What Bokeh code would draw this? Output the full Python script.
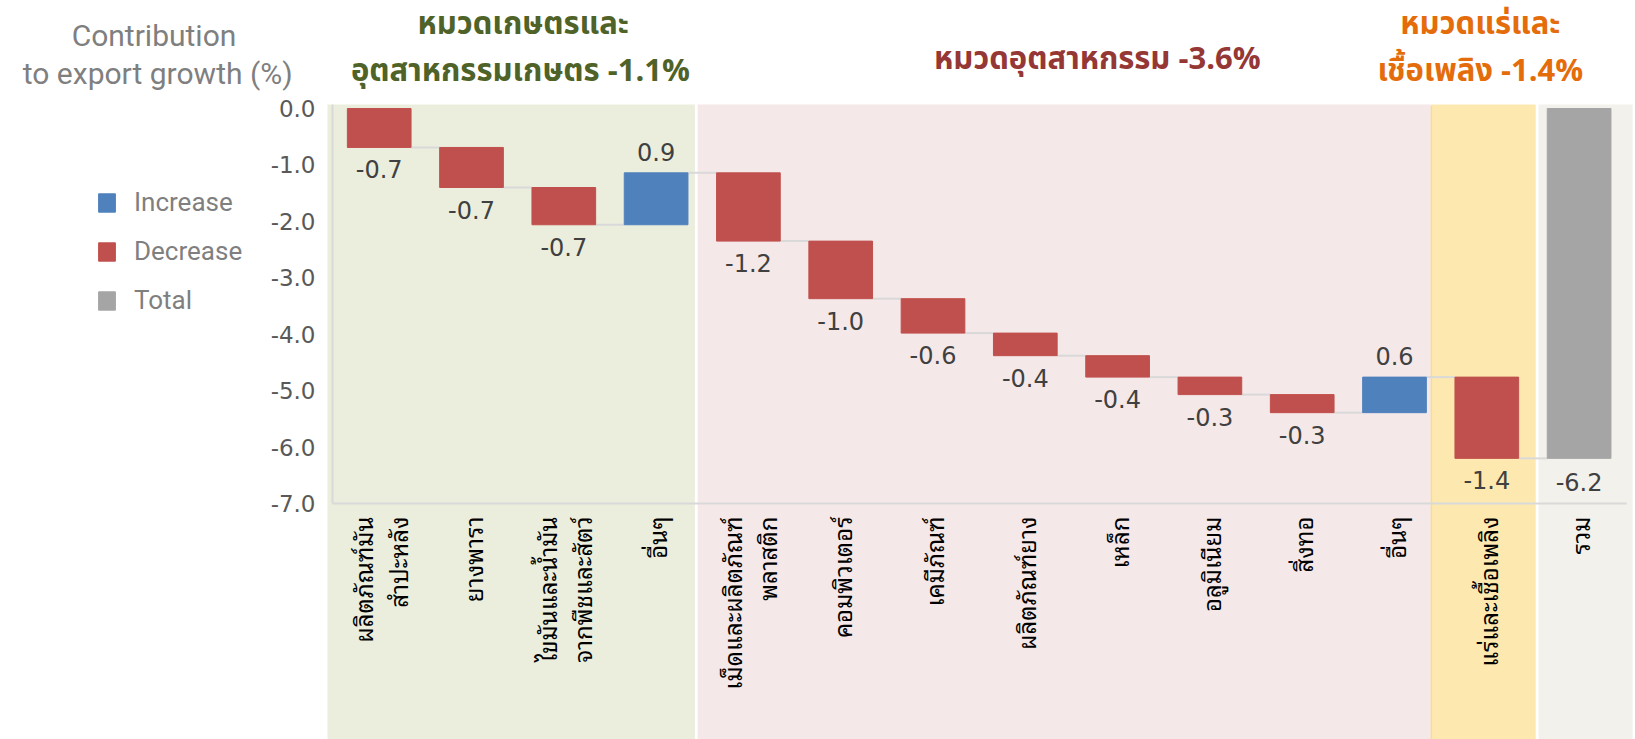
import math
from bokeh.plotting import figure
from bokeh.models import (Range1d, FixedTicker, PrintfTickFormatter, Legend, LegendItem,
                          Label, ColumnDataSource)
from bokeh.core.properties import value
from bokeh.embed import file_html
from bokeh.resources import INLINE

# ---------------- data ----------------
categories = ["ผลิตภัณฑ์มัน\nสำปะหลัง", "ยางพารา", "ไขมันและน้ำมัน\nจากพืชและสัตว์", "อื่นๆ",
              "เม็ดและผลิตภัณฑ์\nพลาสติก", "คอมพิวเตอร์", "เคมีภัณฑ์", "ผลิตภัณฑ์ยาง",
              "เหล็ก", "อลูมิเนียม", "สิ่งทอ", "อื่นๆ", "แร่และเชื้อเพลิง"]
changes = [-0.69, -0.71, -0.66, 0.92, -1.21, -1.02, -0.61, -0.40, -0.38, -0.31, -0.32, 0.63, -1.44]
total_name = "รวม"
y_ticks = [0.0, -1.0, -2.0, -3.0, -4.0, -5.0, -6.0, -7.0]
group_names = ["หมวดเกษตรและ\nอุตสาหกรรมเกษตร", "หมวดอุตสาหกรรม", "หมวดแร่และ\nเชื้อเพลิง", ""]
group_shares = [-1.1, -3.6, -1.4, None]
group_first = [0, 4, 12, 13]
group_last = [3, 11, 12, 13]
legend_labels = ["Increase", "Decrease", "Total"]

# ---------------- styles ----------------
C_INC, C_DEC, C_TOT = "#4F81BD", "#C0504D", "#A5A5A5"
BAND_COLORS = ["#EBEEDD", "#F5E8E8", "#FDE9AF", "#F3F1EB"]
HEAD_COLORS = ["#4F6228", "#953735", "#E46C0A", None]
THAI = value("'Noto Sans Thai Looped', 'Noto Sans Thai', Tahoma, 'Noto Sans', sans-serif")
THAI_BOLD = "'Noto Sans Thai', 'Noto Sans Thai Looped', 'Noto Sans', sans-serif"
NUM_FONT = "DejaVu Sans"

# ---------------- derived waterfall geometry ----------------
starts, ends = [], []
lvl = 0.0
for c in changes:
    starts.append(lvl)
    lvl += c
    ends.append(lvl)
total = lvl
n = len(changes)
BW = 0.69

def bars(kind):
    d = dict(x=[], top=[], bottom=[])
    for i, c in enumerate(changes):
        if (c > 0) == (kind == "inc"):
            d["x"].append(i)
            d["top"].append(max(starts[i], ends[i]))
            d["bottom"].append(min(starts[i], ends[i]))
    return d

inc_src = ColumnDataSource(bars("inc"))
dec_src = ColumnDataSource(bars("dec"))
tot_src = ColumnDataSource(dict(x=[n], top=[0.0], bottom=[total]))

lab = dict(x=[], y=[], t=[], off=[])
for i, c in enumerate(changes):
    lab["x"].append(i)
    lab["t"].append(f"{c:.1f}")
    if c < 0:
        lab["y"].append(min(starts[i], ends[i])); lab["off"].append(22)
    else:
        lab["y"].append(max(starts[i], ends[i])); lab["off"].append(-21)
lab["x"].append(n); lab["y"].append(total); lab["t"].append(f"{total:.1f}"); lab["off"].append(24)
lab_src = ColumnDataSource(lab)

conn = dict(x0=[], x1=[], y=[])
for i in range(n):
    conn["x0"].append(i + BW / 2)
    conn["x1"].append(i + 1 - BW / 2)
    conn["y"].append(ends[i])

# ---------------- figure ----------------
p = figure(width=1635, height=739, title=None,
           x_range=Range1d(-4.103, 13.611), y_range=Range1d(-11.182, 1.914),
           x_axis_location=None, output_backend="svg", toolbar_location=None,
           min_border=0, min_border_left=0, min_border_right=0, min_border_top=0,
           min_border_bottom=0)
p.outline_line_color = None
p.xgrid.visible = False
p.ygrid.visible = False
p.background_fill_color = "white"
p.border_fill_color = "white"

# background bands (edges in category units)
band_left = [group_first[0] - 0.56, group_first[1] - 0.55, group_first[2] - 0.60, group_first[3] - 0.44]
band_right = [group_last[0] + 0.42, group_last[1] + 0.40, group_last[2] + 0.53, group_last[3] + 0.58]
for g in range(4):
    p.quad(left=band_left[g], right=band_right[g], top=0.07, bottom=-11.3,
           fill_color=BAND_COLORS[g], line_color=None)
# yellow band border
p.segment(x0=[band_left[2]], x1=[band_left[2]], y0=[0.05], y1=[-11.3],
          line_color="#F7DC95", line_width=1.5)

# axis lines
p.segment(x0=[-0.506], x1=[-0.506], y0=[0.07], y1=[y_ticks[-1]], line_color="#D9D9D9", line_width=2)
p.segment(x0=[-0.506], x1=[13.515], y0=[y_ticks[-1]], y1=[y_ticks[-1]], line_color="#D9D9D9", line_width=2)

# connectors
p.segment(x0="x0", x1="x1", y0="y", y1="y", source=ColumnDataSource(conn),
          line_color="#D9D9D9", line_width=2)

r_inc = p.vbar(x="x", top="top", bottom="bottom", width=BW, source=inc_src,
               fill_color=C_INC, line_color=C_INC)
r_dec = p.vbar(x="x", top="top", bottom="bottom", width=BW, source=dec_src,
               fill_color=C_DEC, line_color=C_DEC)
r_tot = p.vbar(x="x", top="top", bottom="bottom", width=BW, source=tot_src,
               fill_color=C_TOT, line_color=C_TOT)

# value labels
p.text(x="x", y="y", text="t", y_offset="off", source=lab_src, text_align="center",
       text_baseline="middle", text_font=value(NUM_FONT), text_font_size="24px",
       text_color="#404040")

# category labels (rotated)
xl = ColumnDataSource(dict(x=list(range(n + 1)), y=[y_ticks[-1] - 0.23] * (n + 1),
                           t=categories + [total_name]))
p.text(x="x", y="y", text="t", source=xl, angle=math.pi / 2, text_align="right",
       text_baseline="middle", text_font=THAI, text_font_size="24px", text_color="#000000",
       text_line_height=0.92)

# y axis (drawn at the left edge of the chart area, takes no extra border)
p.yaxis.fixed_location = -0.506
p.yaxis.ticker = FixedTicker(ticks=y_ticks)
p.yaxis.formatter = PrintfTickFormatter(format="%.1f")
p.yaxis.axis_line_color = None
p.yaxis.major_tick_line_color = None
p.yaxis.minor_tick_line_color = None
p.yaxis.major_tick_out = 0
p.yaxis.major_tick_in = 0
p.yaxis.major_label_standoff = 17
p.yaxis.major_label_text_font = NUM_FONT
p.yaxis.major_label_text_font_size = "23px"
p.yaxis.major_label_text_color = "#595959"

# legend
legend = Legend(items=[LegendItem(label=legend_labels[0], renderers=[r_inc]),
                       LegendItem(label=legend_labels[1], renderers=[r_dec]),
                       LegendItem(label=legend_labels[2], renderers=[r_tot])],
                location=(96, 424), padding=0, margin=0, spacing=19,
                glyph_width=21, glyph_height=23, label_standoff=17, label_height=23,
                label_text_font="Roboto", label_text_font_size="26px",
                label_text_color="#7F7F7F", background_fill_alpha=0, border_line_alpha=0)
p.add_layout(legend)

# axis title
p.add_layout(Label(x=-2.44, y=1.30, text="Contribution", text_align="center",
                   text_baseline="middle", text_font="Roboto", text_font_size="30px",
                   text_color="#7F7F7F"))
p.add_layout(Label(x=-2.40, y=0.62, text="to export growth (%)", text_align="center",
                   text_baseline="middle", text_font="Roboto", text_font_size="30px",
                   text_color="#7F7F7F"))

# group headers
head_pos = [[(1.56, 1.489), (1.53, 0.656)], [(7.78, 0.868)], [(11.93, 1.489), (11.93, 0.656)]]
for g in range(3):
    lines = group_names[g].split("\n")
    lines[-1] = lines[-1] + f" {group_shares[g]:.1f}%"
    for (hx, hy), t in zip(head_pos[g], lines):
        p.add_layout(Label(x=hx, y=hy, text=t, text_align="center", text_baseline="middle",
                           text_font=THAI_BOLD, text_font_size="31px", text_font_style="bold",
                           text_color=HEAD_COLORS[g]))

open("out.html", "w").write(file_html(p, INLINE))
